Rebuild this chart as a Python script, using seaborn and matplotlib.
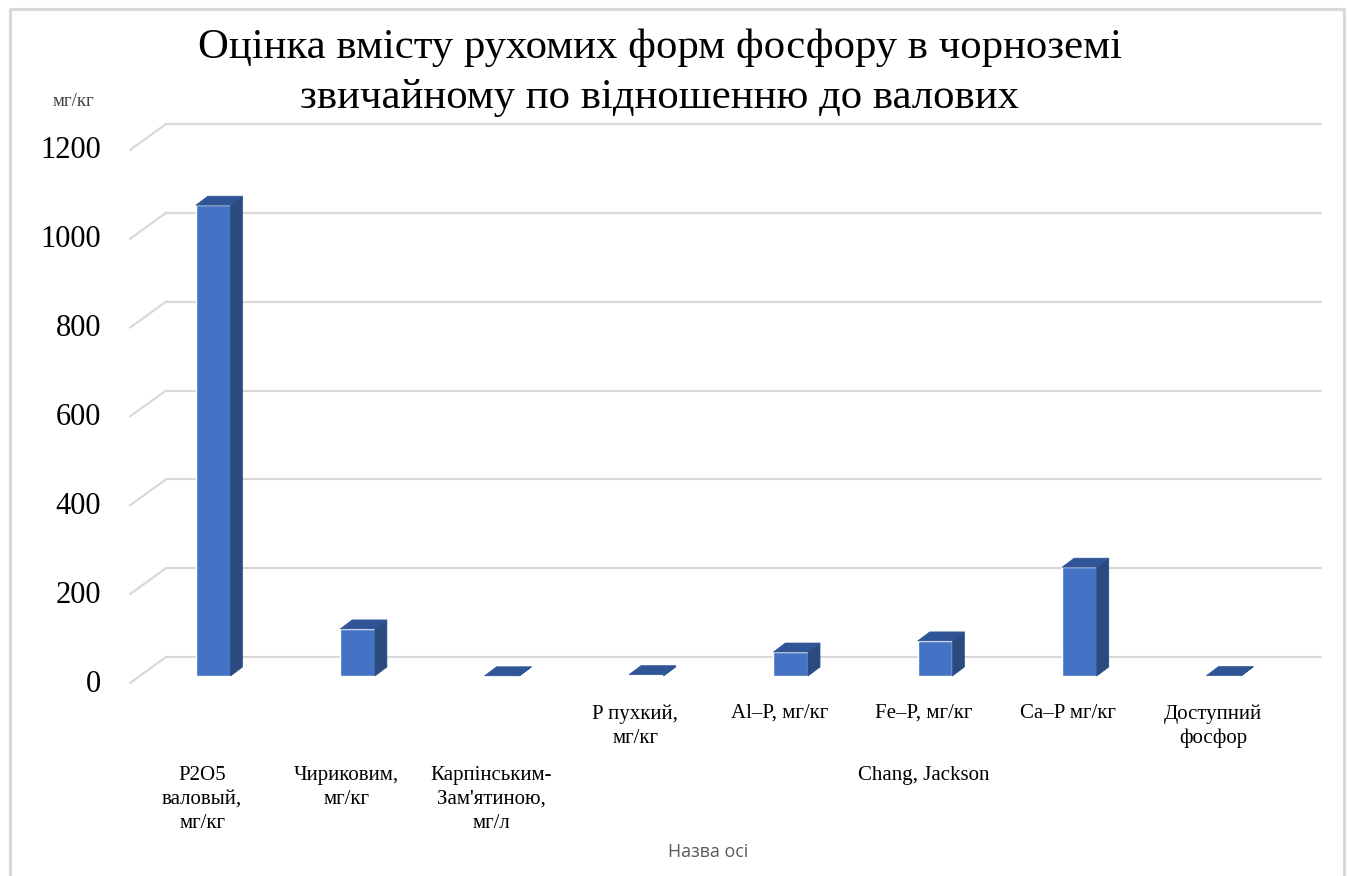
import matplotlib
matplotlib.use("Agg")
import matplotlib.pyplot as plt
import seaborn as sns
import pandas as pd
from matplotlib.patches import Polygon
from matplotlib.lines import Line2D
from matplotlib.transforms import IdentityTransform

# ---- data -------------------------------------------------------------
methods = ["P2O5", "Чириковим", "Карпінським", "P пухкий",
           "Al-P", "Fe-P", "Ca-P", "Доступний"]
values = [1060, 106, 0.5, 3, 54, 79, 245, 1]

inner_labels = ["", "", "", "P пухкий,\nмг/кг", "Al–P, мг/кг",
                "Fe–P, мг/кг", "Ca–P мг/кг", "Доступний\nфосфор"]
outer_labels = ["P2O5\nваловый,\nмг/кг", "Чириковим,\nмг/кг",
                "Карпінським-\nЗам'ятиною,\nмг/л", "Chang, Jackson"]
outer_spans = [(0, 0), (1, 1), (2, 2), (4, 6)]

y_ticks = [0, 200, 400, 600, 800, 1000, 1200]

title = "Оцінка вмісту рухомих форм фосфору в чорноземі\nзвичайному по відношенню до валових"
unit_label = "мг/кг"
x_axis_title = "Назва осі"

# ---- styling ----------------------------------------------------------
W, H = 1348, 876
FRONT = "#4472C4"
TOP = "#2F5597"
SIDE = "#2A4A80"
GRID = "#D9D9D9"
SERIF = ["Liberation Serif", "DejaVu Serif"]

# pseudo-3D geometry (pixels)
DEPTH_DX, DEPTH_DY = 12, 9          # bar depth
WALL_DX, WALL_DY = 25, 19           # bar plane -> back wall
FLOOR_DX, FLOOR_DY = -11, -7        # bar plane -> front edge

sns.set_theme(style="white")
plt.rcParams["font.family"] = SERIF

fig = plt.figure(figsize=(W / 100, H / 100), dpi=100)
fig.patch.set_facecolor("white")
ax = fig.add_axes([141 / W, (H - 676) / H, 1155 / W, 533 / H])

df = pd.DataFrame({"method": methods, "value": values})
sns.barplot(data=df, x="method", y="value", color=FRONT, saturation=1,
            width=0.24, ax=ax, zorder=3)
ax.set_xlim(-0.5, len(methods) - 0.5)
ax.set_ylim(0, 1200)
ax.axis("off")

T = ax.transData
ident = IdentityTransform()

# back-wall gridlines with diagonal stubs on the side wall
x_left = T.transform((-0.5, 0))[0]
x_right = T.transform((len(methods) - 0.5, 0))[0]
for v in y_ticks:
    y = T.transform((0, v))[1]
    ax.add_line(Line2D([x_left + WALL_DX, x_right + WALL_DX],
                       [y + WALL_DY, y + WALL_DY], color=GRID, lw=1.6,
                       transform=ident, zorder=1, clip_on=False))
    ax.add_line(Line2D([x_left + FLOOR_DX, x_left + WALL_DX],
                       [y + FLOOR_DY, y + WALL_DY], color=GRID, lw=1.6,
                       transform=ident, zorder=1, clip_on=False))
    fig.text(x_left - 40, y + FLOOR_DY - 1, f"{v}", transform=ident,
             ha="right", va="center", fontsize=22, color="black")

# top and side faces derived from each bar
for bar in list(ax.patches):
    (x0, y0), (x1, y1) = T.transform([(bar.get_x(), 0),
                                      (bar.get_x() + bar.get_width(), bar.get_height())])
    side = Polygon([(x1, y0), (x1, y1), (x1 + DEPTH_DX, y1 + DEPTH_DY),
                    (x1 + DEPTH_DX, y0 + DEPTH_DY)], closed=True,
                   facecolor=SIDE, edgecolor=SIDE, lw=0.5, transform=ident,
                   zorder=4, clip_on=False)
    top = Polygon([(x0, y1), (x1, y1), (x1 + DEPTH_DX, y1 + DEPTH_DY),
                   (x0 + DEPTH_DX, y1 + DEPTH_DY)], closed=True,
                  facecolor=TOP, edgecolor=TOP, lw=0.5, transform=ident,
                  zorder=4, clip_on=False)
    ax.add_patch(side)
    ax.add_patch(top)

# category labels: inner row and grouped outer row
inner_y = H - 704
outer_y = H - 766
for i, lab in enumerate(inner_labels):
    if lab:
        x = T.transform((i, 0))[0] + FLOOR_DX
        fig.text(x, inner_y, lab, transform=ident, ha="center", va="top",
                 fontsize=15, linespacing=1.36, color="black")
for lab, (a, b) in zip(outer_labels, outer_spans):
    x = (T.transform((a, 0))[0] + T.transform((b, 0))[0]) / 2 + FLOOR_DX
    fig.text(x, outer_y, lab, transform=ident, ha="center", va="top",
             fontsize=15, linespacing=1.36, color="black")

fig.text(708 / W, 1 - 852 / H, x_axis_title, ha="center", va="center",
         fontsize=12.8, color="#595959", family=["Open Sans", "DejaVu Sans"])
fig.text(73 / W, 1 - 101 / H, unit_label, ha="center", va="center",
         fontsize=13.5, color="#404040")
fig.text(660 / W, 1 - 73 / H, title, ha="center", va="center",
         fontsize=30.8, linespacing=1.4, color="black")

# chart-area border
fig.add_artist(Line2D([9.5, 9.5, 1344, 1344], [0, H - 8.5, H - 8.5, 0],
                      color=GRID, lw=2.2, transform=ident))

fig.savefig("out.png", dpi=100, facecolor="white")
